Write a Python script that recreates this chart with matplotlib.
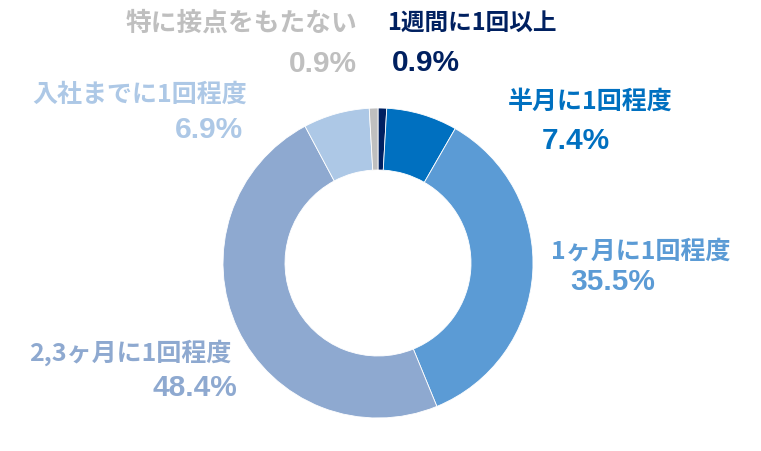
import matplotlib.pyplot as plt

plt.rcParams['font.family'] = ['Noto Sans CJK JP', 'DejaVu Sans']

labels = ['1週間に1回以上', '半月に1回程度', '1ヶ月に1回程度',
          '2,3ヶ月に1回程度', '入社までに1回程度', '特に接点をもたない']
values = [0.9, 7.4, 35.5, 48.4, 6.9, 0.9]
colors = ['#002060', '#0070C0', '#5B9BD5', '#8EA9D0', '#ADC8E6', '#BFBFBF']

# label placement in pixels (x, y from top), alignment, size
label_pos = [(387, 23, 'left', 17), (590, 102, 'center', 18),
             (641, 252, 'center', 18), (130, 353, 'center', 18),
             (140, 95, 'center', 18), (357, 23, 'right', 18.5)]
pct_pos = [(392, 63, 'left'), (576, 141, 'center'), (613, 282, 'center'),
           (237, 388, 'right'), (243, 130, 'right'), (357, 64, 'right')]

W, H = 761, 451
fig = plt.figure(figsize=(W / 100, H / 100), dpi=100)
ax = fig.add_axes([0, 0, 1, 1])

ax.pie(values, colors=colors, startangle=90, counterclock=False,
       center=(378, H - 263), radius=155, frame=True,
       wedgeprops=dict(width=62, edgecolor='white', linewidth=0.6))
ax.set_xlim(0, W)
ax.set_ylim(0, H)
ax.set_aspect('equal')
ax.axis('off')

for lab, val, col, lp, pp in zip(labels, values, colors, label_pos, pct_pos):
  ax.text(lp[0], H - lp[1], lab, color=col, fontsize=lp[3], fontweight='bold',
          ha=lp[2], va='center')
  ax.text(pp[0], H - pp[1], f'{val:.1f}%', color=col, fontsize=21.5,
          fontweight='bold', ha=pp[2], va='center',
          family=['Liberation Sans', 'DejaVu Sans'])

fig.savefig('out.png', dpi=100, facecolor='white')
